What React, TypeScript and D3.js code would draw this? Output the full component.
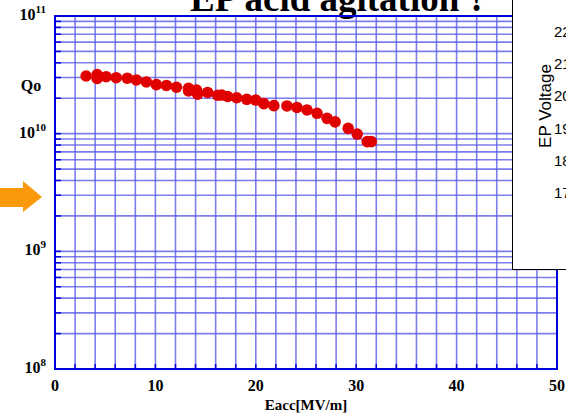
import React from 'react';
import * as d3 from 'd3';

const eacc = [3.1, 4.2, 4.2, 5.1, 6.1, 7.2, 8.1, 9.1, 10.1, 11.1, 12.1, 13.3, 13.3, 14.1, 14.2, 15.2, 16.2, 16.6, 17.2, 18.1, 19.1, 20.0, 20.8, 21.8, 23.1, 24.1, 25.1, 26.1, 27.1, 27.9, 29.2, 30.1, 31.1, 31.5];
const qo = [3.09e10, 3.18e10, 2.95e10, 3.05e10, 2.99e10, 2.96e10, 2.86e10, 2.75e10, 2.61e10, 2.57e10, 2.48e10, 2.43e10, 2.31e10, 2.35e10, 2.17e10, 2.24e10, 2.12e10, 2.13e10, 2.07e10, 2.02e10, 1.96e10, 1.93e10, 1.80e10, 1.73e10, 1.72e10, 1.67e10, 1.59e10, 1.49e10, 1.35e10, 1.26e10, 1.11e10, 9.93e9, 8.55e9, 8.55e9];
const xTicks = [0, 10, 20, 30, 40, 50];
const yExponents = [8, 9, 10, 11];
const voltageLabels = [22, 21, 20, 19, 18, 17];
const title = 'EP acid agitation ?';
const xTitle = 'Eacc[MV/m]';
const yTitle = 'Qo';
const boxTitle = 'EP Voltage';

export default function App() {
  const W = 566, H = 416;
  const L = 55, R = 557, T = 16, B = 369;
  const x = d3.scaleLinear().domain([0, 50]).range([L, R]);
  const y = d3.scaleLog().domain([1e8, 1e11]).range([B, T]);
  const minorY: number[] = [];
  for (let e = 8; e < 11; e++) for (let k = 1; k < 10; k++) minorY.push(k * Math.pow(10, e));
  const gridX = d3.range(2, 50, 2);
  const vScale = d3.scaleLinear().domain([17, 22]).range([193, 32]);
  const serif = '"Liberation Serif", "Times New Roman", serif';
  const sans = '"Liberation Sans", Arial, sans-serif';
  const gridColor = '#5c5ce8';
  const axisColor = '#0000dd';

  return (
    <svg width={W} height={H} style={{ position: 'fixed', left: 0, top: 0, background: '#fff' }}>
      <rect x={0} y={0} width={W} height={H} fill="#fff" />
      {/* title */}
      <text x={190} y={11} fontFamily={serif} fontWeight="bold" fontSize={37} fill="#000">{title}</text>
      {/* grid */}
      <g stroke={gridColor} strokeWidth={1.6} strokeOpacity={0.8}>
        {gridX.map(v => <line key={'gx' + v} x1={x(v)} x2={x(v)} y1={T} y2={B} />)}
        {minorY.map(v => <line key={'gy' + v} x1={L} x2={R} y1={y(v)} y2={y(v)} />)}
      </g>
      {/* ticks */}
      <g stroke={axisColor} strokeWidth={1.5}>
        {minorY.map(v => <line key={'ty' + v} x1={L} x2={L + 6} y1={y(v)} y2={y(v)} />)}
        {gridX.map(v => <line key={'tx' + v} x1={x(v)} x2={x(v)} y1={B} y2={B - 5} />)}
      </g>
      {/* frame */}
      <rect x={L} y={T} width={R - L} height={B - T} fill="none" stroke={axisColor} strokeWidth={2} />
      {/* data */}
      <g fill="#e00000">
        {eacc.map((e, i) => <circle key={'p' + i} cx={x(e)} cy={y(qo[i])} r={5.8} />)}
      </g>
      {/* x tick labels */}
      {xTicks.map(v => (
        <text key={'xl' + v} x={x(v)} y={391} textAnchor="middle" fontFamily={serif} fontWeight="bold" fontSize={16} fill="#000">{v}</text>
      ))}
      <text x={(L + R) / 2} y={410} textAnchor="middle" fontFamily={serif} fontWeight="bold" fontSize={15} fill="#000">{xTitle}</text>
      {/* y tick labels */}
      {yExponents.map(e => (
        <text key={'yl' + e} x={46} y={y(Math.pow(10, e)) + 4} textAnchor="end" fontFamily={serif} fontWeight="bold" fontSize={16} fill="#000">
          10<tspan fontSize={11} dy={-7}>{e}</tspan>
        </text>
      ))}
      <text x={31} y={91} textAnchor="middle" fontFamily={serif} fontWeight="bold" fontSize={16} fill="#000">{yTitle}</text>
      {/* orange arrow */}
      <path d="M0,188 L23,188 L23,181 L42,197 L23,212 L23,207 L0,207 Z" fill="#fa9a0a" />
      {/* overlapping box */}
      <rect x={512.5} y={-5} width={70} height={274.5} fill="#fff" stroke="#000" strokeWidth={1} />
      <text transform={`translate(551,106) rotate(-90)`} textAnchor="middle" fontFamily={sans} fontSize={17} fill="#000">{boxTitle}</text>
      {voltageLabels.map(v => (
        <text key={'v' + v} x={554} y={vScale(v) + 5} fontFamily={sans} fontSize={15} fill="#000">{v}</text>
      ))}
    </svg>
  );
}
